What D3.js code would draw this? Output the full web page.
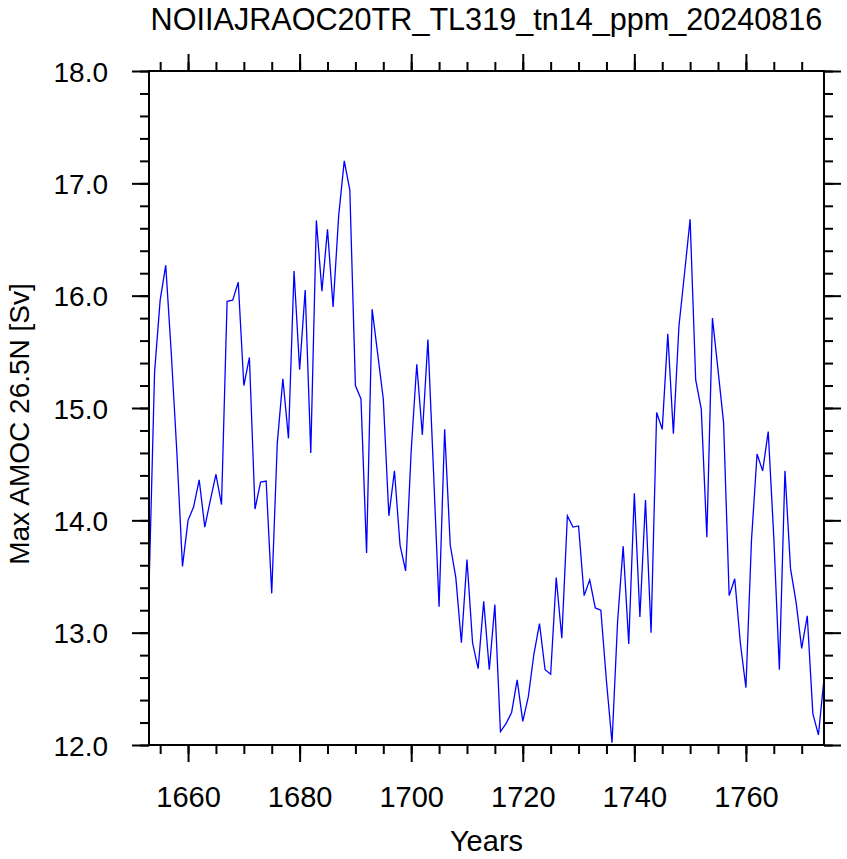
<!DOCTYPE html>
<html>
<head>
<meta charset="utf-8">
<script src="https://cdn.jsdelivr.net/npm/d3@7"></script>
<style>
  html, body { margin: 0; padding: 0; background: #fff; }
  svg { display: block; }
  text { font-family: "Liberation Sans", Arial, Helvetica, sans-serif; fill: #000; }
</style>
</head>
<body>
<svg id="chart" width="847" height="859"></svg>
<script>
const title = "NOIIAJRAOC20TR_TL319_tn14_ppm_20240816";
const xLabel = "Years";
const yLabel = "Max AMOC 26.5N [Sv]";
const startYear = 1653;
const amoc = [
  13.39, 15.32, 15.96, 16.27, 15.48, 14.60, 13.59, 14.00, 14.12, 14.36,
  13.94, 14.18, 14.41, 14.14, 15.95, 15.96, 16.12, 15.20, 15.45, 14.10,
  14.34, 14.35, 13.35, 14.69, 15.26, 14.73, 16.22, 15.34, 16.05, 14.60,
  16.67, 16.04, 16.59, 15.90, 16.71, 17.20, 16.94, 15.20, 15.08, 13.71,
  15.88, 15.48, 15.08, 14.04, 14.44, 13.78, 13.55, 14.62, 15.39, 14.76,
  15.61, 14.44, 13.23, 14.81, 13.78, 13.49, 12.91, 13.65, 12.91, 12.68,
  13.28, 12.67, 13.25, 12.12, 12.19, 12.29, 12.58, 12.21, 12.43, 12.81,
  13.08, 12.67, 12.63, 13.49, 12.95, 14.04, 13.94, 13.95, 13.33, 13.47,
  13.22, 13.20, 12.57, 12.02, 13.10, 13.77, 12.90, 14.24, 13.14, 14.18,
  13.00, 14.96, 14.81, 15.66, 14.77, 15.73, 16.20, 16.68, 15.25, 14.99,
  13.85, 15.80, 15.34, 14.87, 13.33, 13.48, 12.91, 12.51, 13.82, 14.59,
  14.44, 14.79, 13.85, 12.67, 14.44, 13.57, 13.27, 12.86, 13.15, 12.28,
  12.09, 12.59
];
const years = amoc.map((_, i) => startYear + i);
const xDomain = [1653, 1774];
const yDomain = [12, 18];
const xMajorTicks = [1660, 1680, 1700, 1720, 1740, 1760];
const xMinorTicks = d3.range(1655, 1774, 5);
const yMajorTicks = [12, 13, 14, 15, 16, 17, 18];
const yMinorTicks = d3.range(12, 18.001, 0.2);

const svg = d3.select("#chart");
const L = 149, R = 824, T = 71, B = 745;
const x = d3.scaleLinear().domain(xDomain).range([L, R]);
const y = d3.scaleLinear().domain(yDomain).range([B, T]);

const majorLen = 17, minorLen = 9;

// data line
const line = d3.line().x((d, i) => x(years[i])).y(d => y(d));
svg.append("path").datum(amoc)
  .attr("d", line)
  .attr("fill", "none")
  .attr("stroke", "#0000ff")
  .attr("stroke-width", 1.3)
  .attr("stroke-linejoin", "miter");

// axes
function addAxis(axisFn, scale, tickVals, len, transform, showLabels, fmt) {
  const a = axisFn(scale).tickValues(tickVals).tickSizeInner(len).tickSizeOuter(0).tickPadding(24);
  if (fmt) a.tickFormat(fmt);
  const g = svg.append("g").attr("transform", transform).call(a);
  g.select(".domain").remove();
  g.selectAll("line").attr("stroke", "#000").attr("stroke-width", 2);
  if (!showLabels) g.selectAll("text").remove();
  else g.selectAll("text").attr("font-size", "29px").attr("fill", "#000")
        .style("font-family", '"Liberation Sans", Arial, Helvetica, sans-serif');
  return g;
}
// bottom
const gb = addAxis(d3.axisBottom, x, xMajorTicks, majorLen, `translate(0,${B})`, true, d3.format("d"));
gb.selectAll("text").attr("y", 62).attr("dy", 0);
addAxis(d3.axisBottom, x, xMinorTicks, minorLen, `translate(0,${B})`, false);
// top
addAxis(d3.axisTop, x, xMajorTicks, majorLen, `translate(0,${T})`, false);
addAxis(d3.axisTop, x, xMinorTicks, minorLen, `translate(0,${T})`, false);
// left
const gl = addAxis(d3.axisLeft, y, yMajorTicks, majorLen, `translate(${L},0)`, true, d3.format(".1f"));
gl.selectAll("text").attr("x", -41).attr("dy", "0.36em").attr("font-size", "28px");
addAxis(d3.axisLeft, y, yMinorTicks, minorLen, `translate(${L},0)`, false);
// right
addAxis(d3.axisRight, y, yMajorTicks, majorLen, `translate(${R},0)`, false);
addAxis(d3.axisRight, y, yMinorTicks, minorLen, `translate(${R},0)`, false);

// frame
svg.append("rect").attr("x", L).attr("y", T).attr("width", R - L).attr("height", B - T)
  .attr("fill", "none").attr("stroke", "#000").attr("stroke-width", 2);

// title
svg.append("text").attr("x", (L + R) / 2).attr("y", 29.5)
  .attr("text-anchor", "middle").attr("font-size", "30.6px").text(title);
// x label
svg.append("text").attr("x", (L + R) / 2).attr("y", 851)
  .attr("text-anchor", "middle").attr("font-size", "29px").text(xLabel);
// y label
svg.append("text").attr("transform", `translate(29,424) rotate(-90)`)
  .attr("text-anchor", "middle").attr("font-size", "28px").text(yLabel);
</script>
</body>
</html>
